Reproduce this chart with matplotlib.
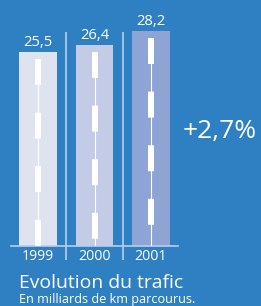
import matplotlib.pyplot as plt
import numpy as np

# data
years = ["1999", "2000", "2001"]
traffic = [25.5, 26.4, 28.2]
value_labels = ["25,5", "26,4", "28,2"]
growth_label = "+2,7%"
title = "Evolution du trafic"
subtitle = "En milliards de km parcourus."

bg = "#2f80c2"
bar_colors = ["#dfe3ef", "#c3cbe6", "#8ea4d4"]
line_col = "#b9cfe9"

plt.rcParams['font.family'] = ['Open Sans', 'DejaVu Sans']
plt.rcParams['lines.scale_dashes'] = False


def fit_width(t, target_px):
    # scale the font so the text spans roughly target_px
    r = fig.canvas.get_renderer()
    w = t.get_window_extent(r).width
    t.set_fontsize(t.get_fontsize() * target_px / w)


fig = plt.figure(figsize=(2.61, 3.06), dpi=100, facecolor=bg)
# axes in pixel terms: baseline at 246px from top, 7.61 px per unit
ax = fig.add_axes([11 / 261, 60 / 306, 167 / 261, 243.5 / 306])
ax.set_facecolor(bg)
ax.set_xlim(-0.478, 2.478)
ax.set_ylim(0, 32)

x = np.arange(len(years))
ax.bar(x, traffic, width=0.67, color=bar_colors, zorder=2)

# road markings: thin centre line + white dashes
for xi, h in zip(x, traffic):
    top = h - 0.9
    ax.plot([xi, xi], [top, 0], color="white", lw=0.8, zorder=3)
    ax.plot([xi, xi], [top, 0], color="white", lw=4.3, zorder=3,
            linestyle=(0, (18.7, 19.9)), dash_capstyle="butt")

for xi, h, lab in zip(x, traffic, value_labels):
    t = ax.text(xi, h + 0.8, lab, ha="center", va="baseline", color="white",
                fontsize=11.5)
    fit_width(t, 29)

# separators between years
ax.vlines([0.5, 1.5], -1.84, 28.1, color=line_col, lw=1.2, clip_on=False, zorder=1)

for s in ["left", "top", "right"]:
    ax.spines[s].set_visible(False)
ax.spines["bottom"].set_color(line_col)
ax.spines["bottom"].set_linewidth(1.2)
ax.set_yticks([])
ax.set_xticks(x)
ax.set_xticklabels(years, color="white", fontsize=11)
ax.tick_params(axis="x", length=0, pad=2.5)
fig.canvas.draw()
for lab in ax.get_xticklabels():
    fit_width(lab, 32)

g = fig.text(183 / 261, 1 - 138 / 306, growth_label, color="white", fontsize=18,
             ha="left", va="baseline")
fit_width(g, 74)
t1 = fig.text(19 / 261, 1 - 288 / 306, title, color="white", fontsize=13.5,
              ha="left", va="baseline")
fit_width(t1, 164)
t2 = fig.text(19 / 261, 1 - 303 / 306, subtitle, color="white", fontsize=8.8,
              ha="left", va="baseline")
fit_width(t2, 176)

fig.savefig("out.png", dpi=100, facecolor=bg)
